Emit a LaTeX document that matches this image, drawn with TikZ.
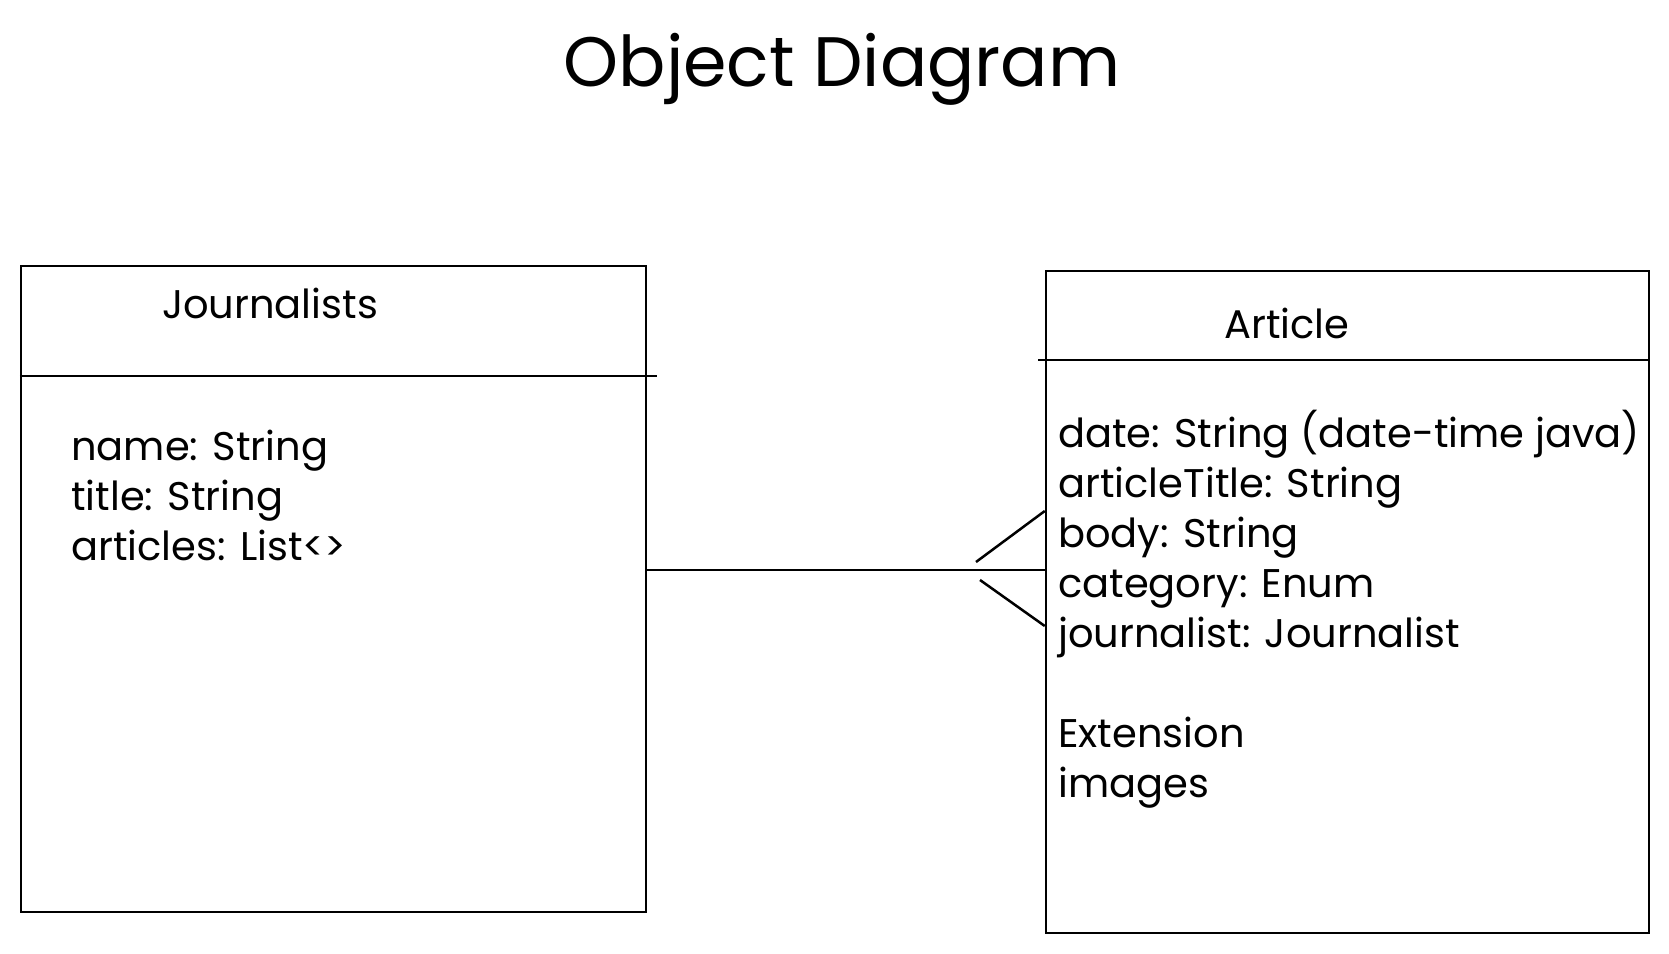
\documentclass[tikz,border=0pt]{standalone}
\usepackage{fontspec}
\setmainfont{Poppins}
\usetikzlibrary{positioning}

\begin{document}
\begin{tikzpicture}[x=1pt, y=-1pt, line width=2.5pt,
    every node/.style={font=\fontsize{40}{48}\selectfont, inner sep=0pt},
    classbox/.style={draw, line width=2.5pt, minimum width=#1},
    attr/.style={anchor=base west}]
    \fill[white] (0,0) rectangle (1669,953);
    \useasboundingbox (0,0) rectangle (1669,953);
    % title
    \node[font=\fontsize{70}{80}\selectfont, anchor=base] (title) at (842,86) {Object Diagram};
    % classes
    \node[classbox=625pt, minimum height=646pt] (jour) at (333.5,589) {};
    \node[classbox=603pt, minimum height=662pt] (art) at (1347.5,602) {};
    \node[anchor=base] (journame) at (270,318) {Journalists};
    \node[anchor=base] (artname) at (1287,338) {Article};
    \draw (jour.west |- 0,376) -- (657,376);
    \draw (1038,360) -- (art.east |- 0,360);
    % attributes
    \foreach \t [count=\i] in {name: String, title: String, articles: List<>}
        \node[attr] (ja\i) at (70,{460+50*(\i-1)}) {\t};
    \foreach \t [count=\i] in {date: String (date-time java), articleTitle: String, body: String, category: Enum, journalist: Journalist, {}, Extension, images}
        \node[attr] (aa\i) at (1057,{447+50*(\i-1)}) {\t};
    % association, many on the article side
    \coordinate (footup) at (976,562);
    \coordinate (footdown) at (980,580);
    \draw (jour.east |- 0,570) -- (art.west |- 0,570);
    \draw (footup) -- (art.west |- 0,511);
    \draw (footdown) -- (art.west |- 0,626);
\end{tikzpicture}
\end{document}
